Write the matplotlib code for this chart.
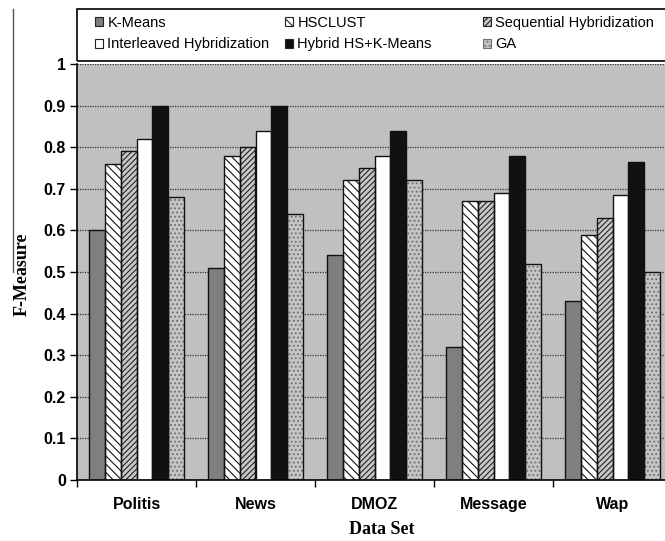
import numpy as np
import matplotlib
matplotlib.use('Agg')
import matplotlib.pyplot as plt
from matplotlib.patches import Rectangle
from matplotlib.lines import Line2D

datasets = ['Politis', 'News', 'DMOZ', 'Message', 'Wap']
kmeans = [0.60, 0.51, 0.54, 0.32, 0.43]
hsclust = [0.76, 0.78, 0.72, 0.67, 0.59]
sequential = [0.79, 0.80, 0.75, 0.67, 0.63]
interleaved = [0.82, 0.84, 0.78, 0.69, 0.685]
hybrid = [0.90, 0.90, 0.84, 0.78, 0.765]
ga = [0.68, 0.64, 0.72, 0.52, 0.50]

# label, values, face colour, hatch, hatch colour
series = [
    ('K-Means', kmeans, '#7f7f7f', None, '#7f7f7f'),
    ('HSCLUST', hsclust, 'white', '\\\\\\\\', '#111111'),
    ('Sequential Hybridization', sequential, '#c8c8c8', '//////', '#222222'),
    ('Interleaved Hybridization', interleaved, 'white', None, 'white'),
    ('Hybrid HS+K-Means', hybrid, '#111111', None, '#111111'),
    ('GA', ga, '#c4c4c4', '....', '#6e6e6e'),
]

W, H = 665, 541
plt.rcParams['font.family'] = ['Liberation Sans', 'DejaVu Sans']
plt.rcParams['hatch.linewidth'] = 0.8

fig = plt.figure(figsize=(W / 100, H / 100), dpi=100)
ax = fig.add_axes([77 / W, 61 / H, 595 / W, 416 / H])
ax.set_facecolor('#c0c0c0')

x = np.arange(len(datasets))
width = 0.132
offsets = (np.arange(len(series)) - 2.5) * width

proxies = []
for i, (label, vals, face, hatch, hcol) in enumerate(series):
    ax.bar(x + offsets[i], vals, width, color=face, hatch=hatch,
           edgecolor=hcol, linewidth=0, zorder=2)
    ax.bar(x + offsets[i], vals, width, fill=False,
           edgecolor='#111111', linewidth=1.0, zorder=3)
    proxies.append(Rectangle((0, 0), 1, 1, facecolor=face, hatch=hatch,
                             edgecolor='#222222' if hatch != '....' else hcol,
                             linewidth=0.8))

ax.set_xlim(-0.5, len(datasets) - 0.5)
ax.set_ylim(0, 1)
ax.set_yticks(np.arange(0, 1.01, 0.1))
ax.set_yticklabels(['0'] + ['%.1f' % v for v in np.arange(0.1, 0.95, 0.1)] + ['1'],
                   weight='bold')
ax.set_xticks(x)
ax.set_xticklabels(datasets, weight='bold')
ax.set_xticks(np.arange(-0.5, len(datasets)), minor=True)
ax.tick_params(axis='x', which='major', length=0, pad=12, labelsize=11.5)
ax.tick_params(axis='x', which='minor', length=5, width=1, direction='out')
ax.tick_params(axis='y', length=5, width=1, direction='out', pad=3, labelsize=11.5)

ax.set_axisbelow(True)
ax.yaxis.grid(True, linestyle=(0, (1, 1)), color='#333333', linewidth=0.9)
ax.spines['top'].set_visible(False)
ax.spines['right'].set_visible(False)
for s in ('left', 'bottom'):
    ax.spines[s].set_linewidth(1.2)
    ax.spines[s].set_color('black')

ax.set_ylabel('F-Measure', family='Liberation Serif', weight='bold', fontsize=13)
ax.yaxis.set_label_coords(-0.078, 0.495)
ax.set_xlabel('Data Set', family='Liberation Serif', weight='bold', fontsize=13)
ax.xaxis.set_label_coords(0.513, -0.098)

# legend: three columns, two rows, inside a box running off the right edge
fig.add_artist(Rectangle((77 / W, 1 - 61 / H), 700 / W, 52 / H, fill=False,
                         edgecolor='black', linewidth=1.2,
                         transform=fig.transFigure))
columns = [(95, [0, 3]), (285, [1, 4]), (483, [2, 5])]
for xpos, idx in columns:
    fig.legend([proxies[i] for i in idx], [series[i][0] for i in idx],
               loc='upper left', bbox_to_anchor=(xpos / W, 1 - 16 / H),
               bbox_transform=fig.transFigure, frameon=False, fontsize=10.5,
               handlelength=0.55, handleheight=0.55, handletextpad=0.3,
               labelspacing=0.5, borderpad=0, borderaxespad=0)

fig.add_artist(Line2D([13 / W, 13 / W], [1 - 9 / H, 1 - 272 / H],
                      color='#555555', linewidth=1.0))

fig.savefig('out.png', dpi=100)
